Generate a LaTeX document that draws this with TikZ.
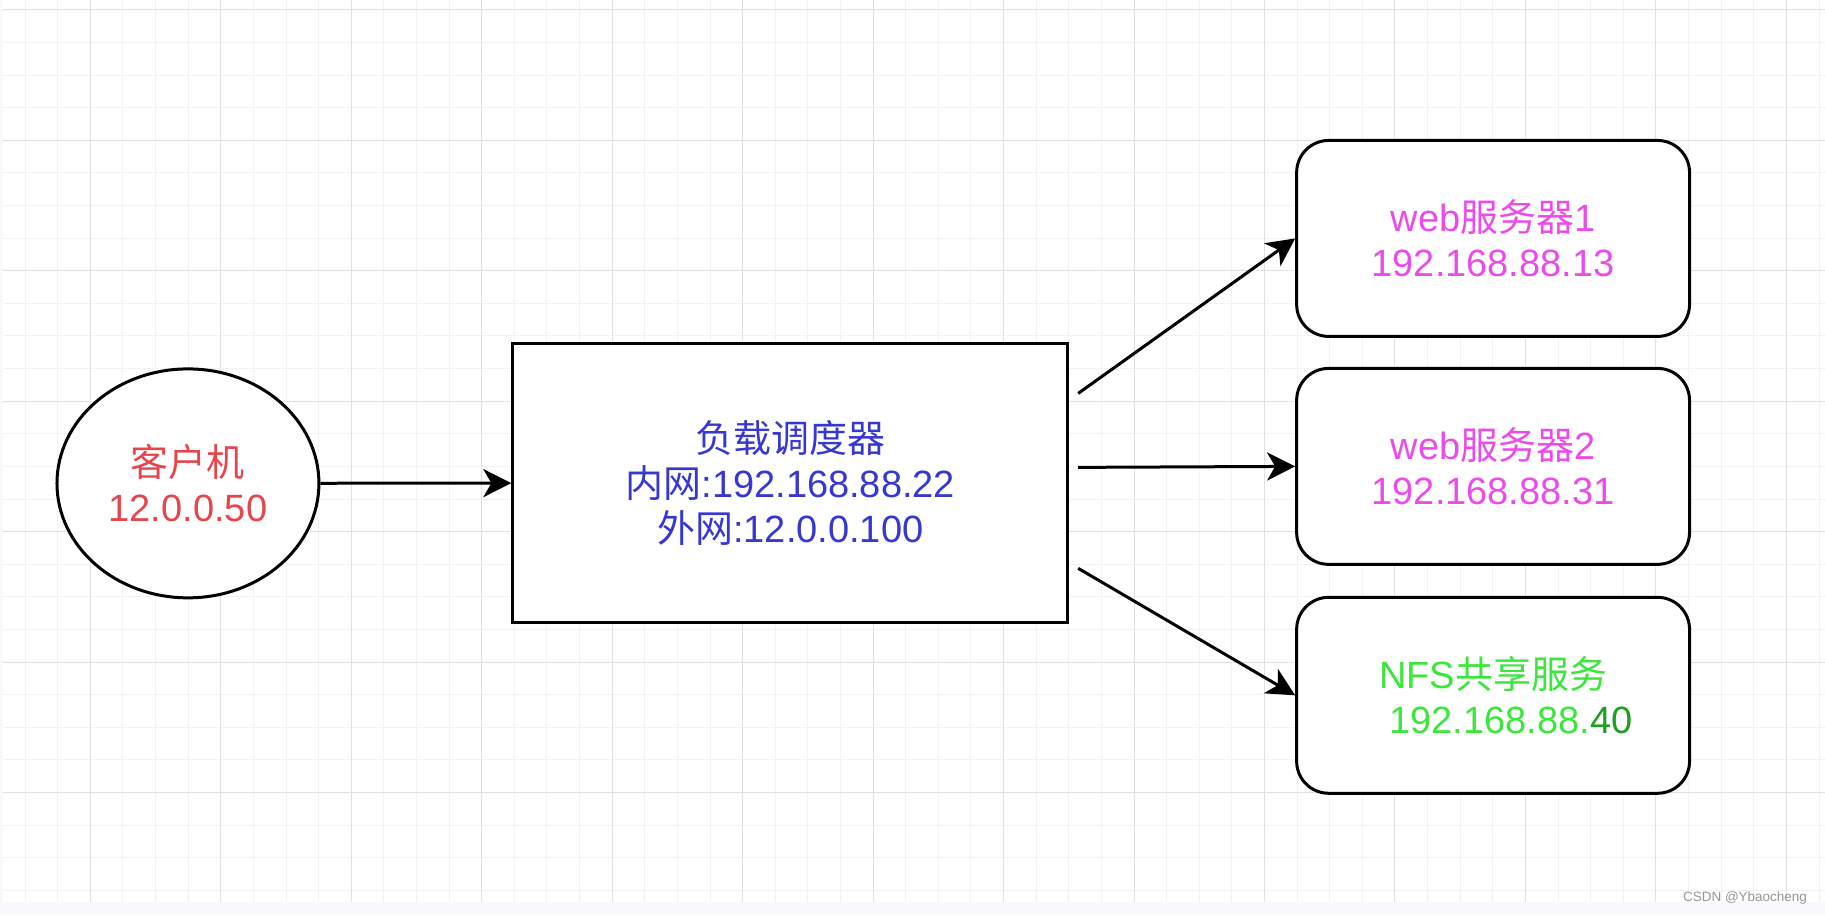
\documentclass[tikz,border=0pt]{standalone}
\usepackage{fontspec}
\setmainfont{Liberation Sans}
\newfontfamily\cjk{Noto Sans CJK SC}
\usetikzlibrary{arrows.meta,calc,shapes.geometric}

\definecolor{clientred}{RGB}{230,70,75}
\definecolor{lbblue}{RGB}{55,55,210}
\definecolor{webpink}{RGB}{235,75,235}
\definecolor{nfsgreen}{RGB}{60,230,60}
\definecolor{nfsdark}{RGB}{30,160,30}
\definecolor{gridminor}{RGB}{242,242,242}
\definecolor{gridmajor}{RGB}{224,224,224}
\definecolor{bandgray}{RGB}{248,249,252}

\begin{document}
\begin{tikzpicture}
  [x=1pt,y=-1pt,
   every node/.style={draw,line width=3pt,fill=white,inner sep=0pt,align=center,
     font=\fontsize{38}{45}\selectfont},
   client/.style={ellipse,minimum width=262pt,minimum height=229pt,text=clientred},
   lb/.style={rectangle,minimum width=555pt,minimum height=279pt,text=lbblue},
   server/.style={rectangle,rounded corners=32pt,minimum width=393pt,minimum height=196pt},
   link/.style={line width=3pt,-{Stealth[length=28pt,width=28pt,inset=8pt]}},
   minorline/.style={gridminor,line width=1pt},
   majorline/.style={gridmajor,line width=1pt}]
  % canvas and grid
  \fill[white] (0,0) rectangle (1825,915);
  \fill[bandgray] (0,902) rectangle (1825,915);
  \fill[bandgray] (0,0) rectangle (3,902);
  \foreach \i in {0,...,55}
    \draw[minorline] ({25.1+32.625*\i},0) -- ({25.1+32.625*\i},902);
  \foreach \j in {0,...,27}
    \draw[minorline] (3,{9.3+32.625*\j}) -- (1825,{9.3+32.625*\j});
  \foreach \i in {0,...,13}
    \draw[majorline] ({90.3+130.5*\i},0) -- ({90.3+130.5*\i},902);
  \foreach \j in {0,...,6}
    \draw[majorline] (3,{9.3+130.5*\j}) -- (1825,{9.3+130.5*\j});
  % hosts
  \node[client] (client) at (188,483) {{\cjk 客户机}\\12.0.0.50};
  \node[lb] (lb) at (790.5,482.5)
    {{\cjk 负载调度器}\\{\cjk 内网}:192.168.88.22\\{\cjk 外网}:12.0.0.100};
  \node[server,text=webpink] (web1) at (1493.5,238) {web{\cjk 服务器}1\\192.168.88.13};
  \node[server,text=webpink] (web2) at (1493.5,466) {web{\cjk 服务器}2\\192.168.88.31};
  \node[server,text=nfsgreen] (nfs) at (1493.5,695)
    {NFS{\cjk 共享服务}\\\hspace*{36pt}192.168.88.{\color{nfsdark}40}};
  \coordinate (s1) at ($(lb.east)+(9,-89.5)$);
  \coordinate (s2) at ($(lb.east)+(9,-15.5)$);
  \coordinate (s3) at ($(lb.east)+(9,85.5)$);
  % links
  \draw[link] (client) -- (lb);
  \foreach \from/\to in {s1/web1,s2/web2,s3/nfs}
    \draw[link] (\from) -- (\to.west);
  \node[draw=none,fill=none,anchor=east,text={rgb,255:red,150;green,150;blue,150},
    font=\fontsize{13.5}{16}\selectfont] (mark) at (1809,898) {CSDN @Ybaocheng};
\end{tikzpicture}
\end{document}
